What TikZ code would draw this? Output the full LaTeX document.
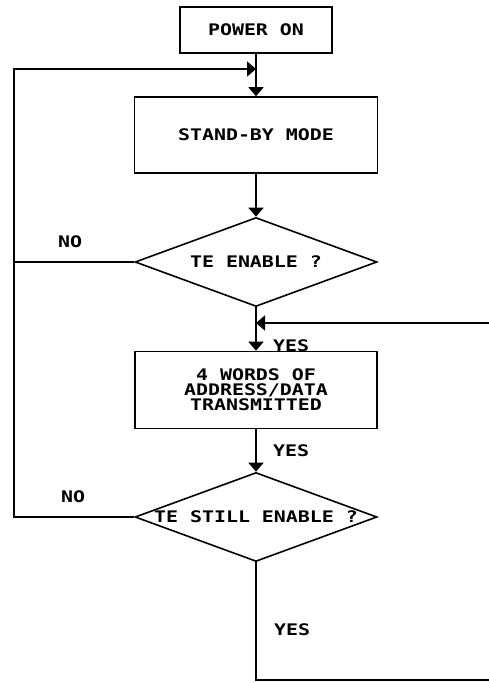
\documentclass[tikz,border=0pt]{standalone}
\usepackage{fontspec}
\newfontfamily\plotfont{DejaVu Sans Mono}[FakeStretch=1.25]
\usetikzlibrary{shapes.geometric, arrows.meta, positioning}

\begin{document}
\begin{tikzpicture}[
    x=1bp, y=-1bp,
    line width=1.6bp,
    arr/.style={-{Triangle[length=9bp, width=15bp]}},
    txt/.style={font=\plotfont\bfseries\fontsize{16}{15}\selectfont},
    lbl/.style={txt, inner sep=0pt},
    box/.style={rectangle, draw, txt, inner sep=0pt, align=center},
    test/.style={diamond, draw, txt, aspect=2.72, inner sep=0pt, minimum width=242bp, minimum height=89bp},
]
\useasboundingbox (0,0) rectangle (489,683);

% Blocks
\node[box, minimum width=152bp, minimum height=46bp] (power) at (256,30) {POWER ON};
\node[box, minimum width=243bp, minimum height=76bp] (standby) at (256,135) {STAND-BY MODE};
\node[test] (enable) at (256,262) {TE ENABLE ?};
\node[box, minimum width=242bp, minimum height=77bp] (words) at (256,390) {4 WORDS OF\\ADDRESS/DATA\\TRANSMITTED};
\node[test] (still) at (256,517) {TE STILL ENABLE ?};

% Free ends
\coordinate (lft) at (14,69);
\coordinate (join) at (256,69);
\coordinate (rin) at (489,323);
\coordinate (rout) at (489,680);

% Main flow
\draw (power.south) -- (join);
\draw[arr] (join) -- (standby.north);
\draw[arr] (standby.south) -- (enable.north);
\draw[arr] (enable.south) -- (words.north);
\draw[arr] (rin) -- (rin -| enable.south);
\draw[arr] (words.south) -- (still.north);
\draw (still.south) |- (rout);

% --- Loops back ---
\draw[arr] (enable.west) -| (lft) -- (join);
\draw (still.west) -| (lft);

% Labels
\node[lbl] (no1) at (70,242) {NO};
\node[lbl] (yes1) at (291,346) {YES};
\node[lbl] (yes2) at (291,451) {YES};
\node[lbl] (no2) at (73,497) {NO};
\node[lbl] (yes3) at (292,630) {YES};

\end{tikzpicture}
\end{document}
